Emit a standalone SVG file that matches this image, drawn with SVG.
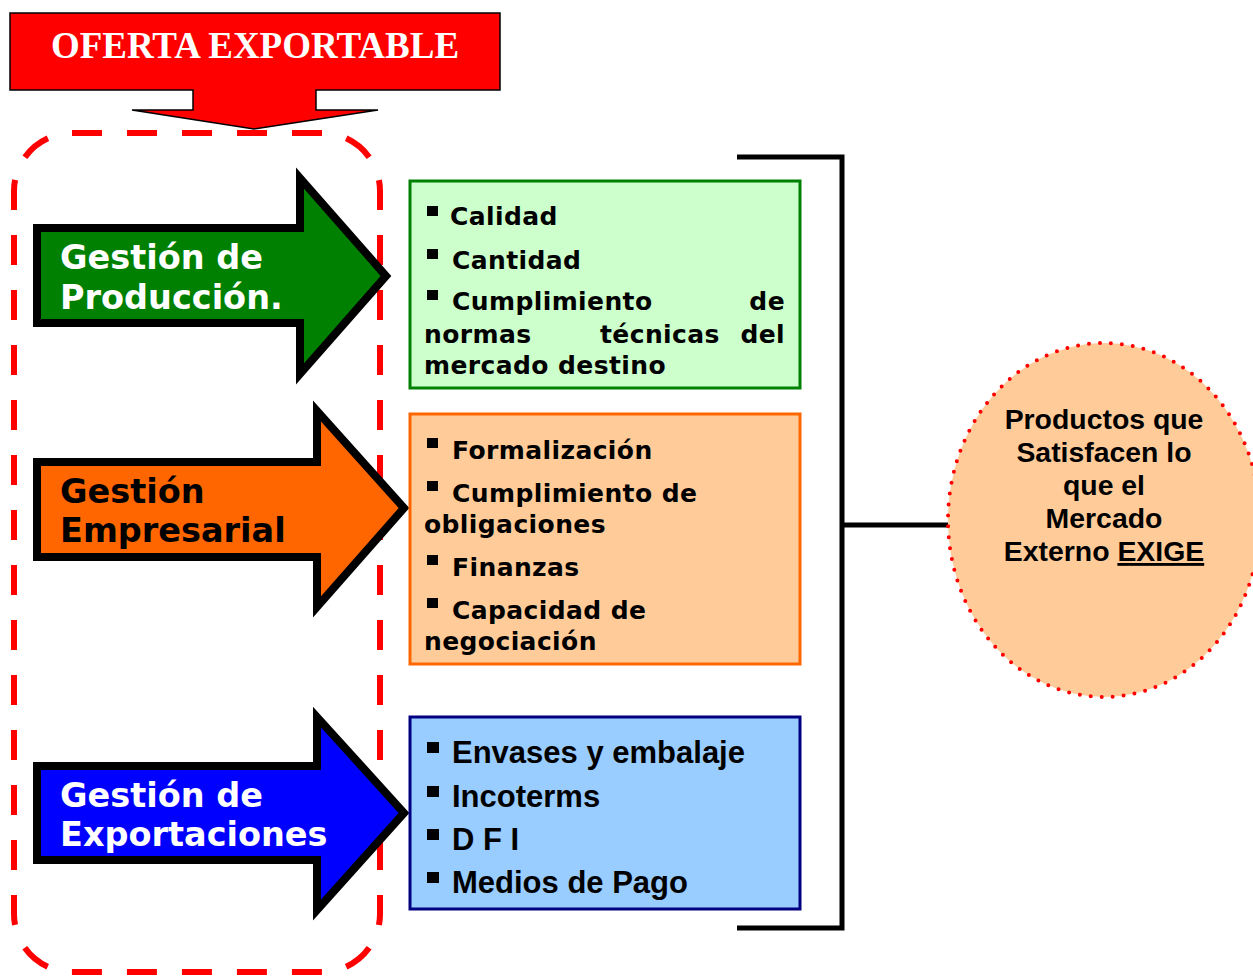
<svg xmlns="http://www.w3.org/2000/svg" width="1253" height="976" viewBox="0 0 1253 976">
<style>
.arrow{stroke:#000;stroke-width:8;stroke-linejoin:miter;stroke-miterlimit:10}
.ah{font-family:"DejaVu Sans",Verdana,sans-serif;font-weight:bold;font-size:33.5px}
.bx{font-family:"DejaVu Sans",Verdana,sans-serif;font-weight:bold;font-size:25px;letter-spacing:0.4px;fill:#000}
.bb{font-family:"Liberation Sans",Arial,sans-serif;font-weight:bold;font-size:31px;fill:#000}
.ct{font-family:"Liberation Sans",Arial,sans-serif;font-weight:bold;font-size:28.4px;fill:#000}
.conn{fill:none;stroke:#000;stroke-width:5}
</style>
<rect width="1253" height="976" fill="#fff"/>
<g id="oferta">
<polygon points="10,13 500,13 500,90 316,90 316,110 378,110 254,129 132,110 193,110 193,90 10,90" fill="#FF0000" stroke="#000" stroke-width="1.5"/>
<text x="255" y="58" text-anchor="middle" font-family="'Liberation Serif','Times New Roman',serif" font-weight="bold" font-size="37" fill="#fff">OFERTA EXPORTABLE</text>
</g>
<g id="grupo">
<rect x="14" y="133" width="366" height="839" rx="58" ry="58" fill="none" stroke="#FF0000" stroke-width="6" stroke-dasharray="30,25"/>
</g>
<g id="produccion">
<polygon class="arrow" points="37,228 300,228 300,178 386,276 300,374 300,323 37,323" fill="#008000"/>
<text class="ah" fill="#fff"><tspan x="60" y="269">Gestión de</tspan><tspan x="60" y="309">Producción.</tspan></text>
</g>
<g id="empresarial">
<polygon class="arrow" points="37,462 317,462 317,411 404,508 317,607 317,557 37,557" fill="#FF6600"/>
<text class="ah" fill="#000"><tspan x="60" y="503">Gestión</tspan><tspan x="60" y="542">Empresarial</tspan></text>
</g>
<g id="exportaciones">
<polygon class="arrow" points="37,766 317,766 317,717 404,813 317,910 317,860 37,860" fill="#0000FF"/>
<text class="ah" fill="#fff"><tspan x="60" y="807">Gestión de</tspan><tspan x="60" y="846">Exportaciones</tspan></text>
</g>
<g id="box-produccion">
<rect x="410" y="181" width="390" height="207" fill="#CCFFCC" stroke="#008000" stroke-width="3"/>
<rect x="427" y="206" width="11" height="10" fill="#000"/>
<text class="bx" x="450" y="225">Calidad</text>
<rect x="427" y="249" width="11" height="10" fill="#000"/>
<text class="bx" x="452" y="269">Cantidad</text>
<rect x="427" y="290" width="11" height="10" fill="#000"/>
<text class="bx" x="452" y="310">Cumplimiento</text>
<text class="bx" x="785" y="310" text-anchor="end">de</text>
<text class="bx" x="424" y="343">normas</text>
<text class="bx" x="600" y="343">técnicas</text>
<text class="bx" x="785" y="343" text-anchor="end">del</text>
<text class="bx" x="424" y="374">mercado destino</text>
</g>
<g id="box-empresarial">
<rect x="410" y="414" width="390" height="250" fill="#FFCC99" stroke="#FF6600" stroke-width="3"/>
<rect x="427" y="438" width="11" height="10" fill="#000"/>
<text class="bx" x="452" y="459">Formalización</text>
<rect x="427" y="481" width="11" height="10" fill="#000"/>
<text class="bx" x="452" y="502">Cumplimiento de</text>
<text class="bx" x="424" y="533">obligaciones</text>
<rect x="427" y="555" width="11" height="10" fill="#000"/>
<text class="bx" x="452" y="576">Finanzas</text>
<rect x="427" y="598" width="11" height="10" fill="#000"/>
<text class="bx" x="452" y="619">Capacidad de</text>
<text class="bx" x="424" y="650">negociación</text>
</g>
<g id="box-exportaciones">
<rect x="410" y="717" width="390" height="192" fill="#99CCFF" stroke="#000080" stroke-width="3"/>
<rect x="427" y="742" width="12" height="11" fill="#000"/>
<text class="bb" x="452" y="763">Envases y embalaje</text>
<rect x="427" y="786" width="12" height="11" fill="#000"/>
<text class="bb" x="452" y="807">Incoterms</text>
<rect x="427" y="829" width="12" height="11" fill="#000"/>
<text class="bb" x="452" y="850">D F I</text>
<rect x="427" y="872" width="12" height="11" fill="#000"/>
<text class="bb" x="452" y="893">Medios de Pago</text>
</g>
<g id="connectors">
<polyline class="conn" points="737,157 842,157 842,928 737,928"/>
<line class="conn" x1="842" y1="525" x2="948" y2="525"/>
</g>
<g id="resultado">
<ellipse cx="1104" cy="520" rx="156" ry="177" fill="#FFCC99" stroke="#FF0000" stroke-width="4" stroke-linecap="round" stroke-dasharray="0,11"/>
<text class="ct" text-anchor="middle"><tspan x="1104" y="429">Productos que</tspan><tspan x="1104" y="462">Satisfacen lo</tspan><tspan x="1104" y="495">que el</tspan><tspan x="1104" y="528">Mercado</tspan><tspan x="1104" y="561">Externo <tspan text-decoration="underline">EXIGE</tspan></tspan></text>
</g>
</svg>
